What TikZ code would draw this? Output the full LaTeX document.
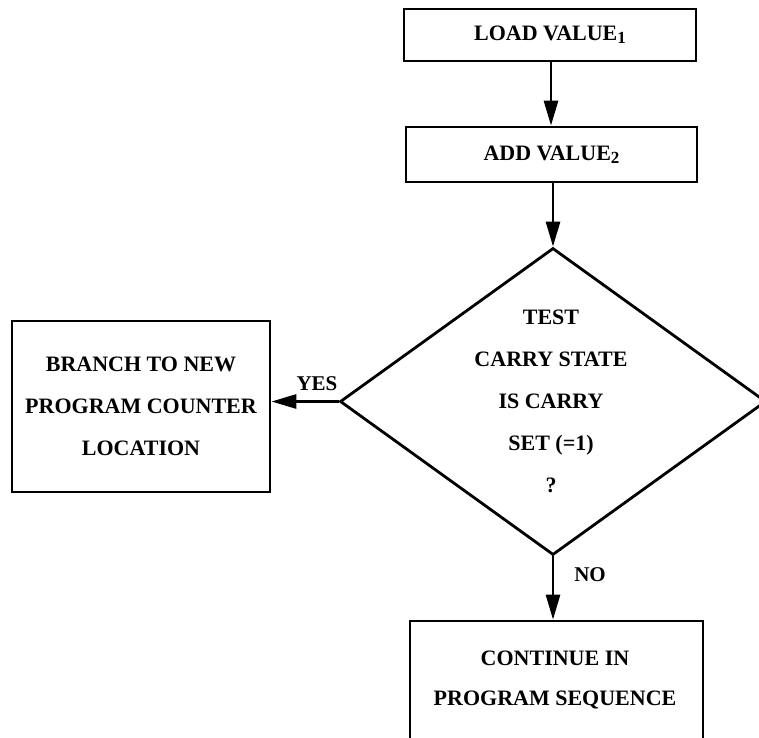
\documentclass[tikz,border=0pt]{standalone}
\usepackage{fontspec}
\setmainfont{Liberation Serif}
\usetikzlibrary{arrows.meta,shapes.geometric}
\newcommand{\mysub}[1]{\raisebox{-0.3ex}{\fontsize{17}{17}\selectfont #1}}
\begin{document}
\begin{tikzpicture}[x=1pt,y=-1pt,
  every node/.style={font=\bfseries\fontsize{22}{42}\selectfont, inner sep=0pt},
  procbox/.style={draw, line width=2.8pt, rectangle},
  conn/.style={line width=2.8pt, -{Triangle[length=25pt,width=14pt]}},
  lbl/.style={font=\bfseries\fontsize{21}{24}\selectfont}]
\useasboundingbox (0,0) rectangle (759,737);
\node[procbox, minimum width=292pt, minimum height=52pt] (load) at (550,35) {LOAD VALUE\mysub{1}};
\node[procbox, minimum width=291pt, minimum height=55pt] (add) at (551.5,154.5) {ADD VALUE\mysub{2}};
\node[draw, diamond, line width=2.8pt, minimum width=426pt, minimum height=307pt] (d) at (553,401.5) {};
\node[align=center] (dtext) at (551,401.5) {TEST\\CARRY STATE\\IS CARRY\\SET (=1)\\?};
\node[procbox, minimum width=258pt, minimum height=171pt, align=center] (branch) at (141,406.5) {BRANCH TO NEW\\PROGRAM COUNTER\\LOCATION};
\node[procbox, minimum width=293pt, minimum height=160pt] (cont) at (556.5,701) {};
\node[align=center, font=\bfseries\fontsize{22}{40}\selectfont] (ctext) at (555,680) {CONTINUE IN\\PROGRAM SEQUENCE};
\draw[conn] (load.south -| 551,0) -- (add.north -| 551,0);
\draw[conn] (add.south -| d.north) -- (d.north);
\draw[conn] (d.west) -- (d.west -| branch.east);
\draw[conn] (d.south) -- (d.south |- cont.north);
\node[lbl] (yes) at (317,384) {YES};
\node[lbl] (no) at (590,575) {NO};
\end{tikzpicture}
\end{document}
